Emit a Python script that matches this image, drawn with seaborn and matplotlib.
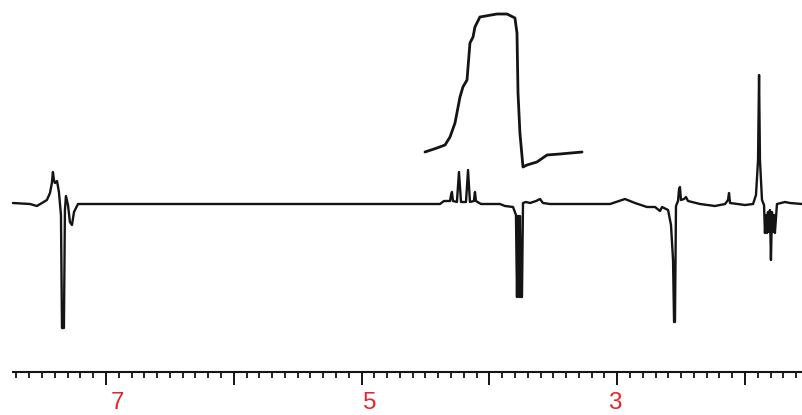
import numpy as np
import pandas as pd
import matplotlib
matplotlib.use("Agg")
import matplotlib.pyplot as plt
import seaborn as sns
from matplotlib.ticker import FixedLocator, NullFormatter

# ---- data (chemical shift in ppm, intensity in arbitrary units) ----
spectrum_ppm = [7.728, 7.595, 7.540, 7.501, 7.462, 7.438, 7.423, 7.415, 7.407, 7.399,
                7.383, 7.368, 7.352, 7.344, 7.329, 7.321, 7.313, 7.297, 7.282, 7.266,
                7.250, 7.219, 6.264, 5.482, 4.387, 4.355, 4.308, 4.300, 4.293, 4.285,
                4.254, 4.238, 4.222, 4.183, 4.167, 4.152, 4.121, 4.113, 4.105, 4.066,
                3.917, 3.878, 3.815, 3.792, 3.784, 3.776, 3.768, 3.761, 3.753, 3.745,
                3.737, 3.714, 3.682, 3.635, 3.604, 3.581, 3.526, 3.056, 2.939, 2.861,
                2.767, 2.704, 2.665, 2.649, 2.602, 2.579, 2.563, 2.555, 2.548, 2.540,
                2.524, 2.516, 2.509, 2.501, 2.477, 2.462, 2.446, 2.352, 2.235, 2.156,
                2.133, 2.125, 2.117, 2.000, 1.937, 1.914, 1.898, 1.890, 1.883, 1.867,
                1.851, 1.844, 1.836, 1.828, 1.820, 1.812, 1.805, 1.797, 1.789, 1.781,
                1.773, 1.766, 1.750, 1.687, 1.648, 1.554]
spectrum_int = [1, 0, -2, 1, 4, 11, 21, 32, 24, 21,
                23, 12, -11, -124, -124, -6, 8, -1, -18, -21,
                -8, 0, 0, 0, 0, 3, 3, 9, 12, 3,
                2, 32, 2, 2, 34, 2, 3, 12, 3, 0,
                0, -2, -3, -11, -93, -12, -93, -12, -93, -93,
                1, 2, 1, 3, 5, 1, 0, 0, 5, 1,
                -3, -3, -7, -3, -6, -21, -56, -118, -118, -2,
                3, 15, 17, 4, 5, 7, 3, 0, -2, 0,
                4, 11, 1, -1, 0, 9, 44, 129, 44, 4,
                -1, -29, -11, -29, -8, -28, -6, -56, -8, -28,
                -11, -29, 0, 2, 1, 0]

integral_ppm = [4.504, 4.410, 4.347, 4.308, 4.269, 4.230, 4.207, 4.175, 4.152, 4.128,
                4.113, 4.074, 3.941, 3.862, 3.800, 3.784, 3.776, 3.761, 3.737, 3.706,
                3.628, 3.549, 3.448, 3.275]
integral_int = [52, 56, 59, 67, 81, 107, 117, 124, 161, 167,
                177, 187, 190, 190, 186, 171, 111, 71, 37, 39,
                42, 49, 50, 52]

tick_labels = ["7", "5", "3"]
tick_label_ppm = [6.906, 4.934, 3.017]

spec_df = pd.DataFrame({"ppm": spectrum_ppm, "intensity": spectrum_int})
int_df = pd.DataFrame({"ppm": integral_ppm, "intensity": integral_int})

sns.set_style("white")
plt.rcParams["font.family"] = ["Liberation Sans", "DejaVu Sans"]

fig = plt.figure(figsize=(8.02, 4.15), dpi=100)
ax = fig.add_axes([0, 0, 1, 1])

ink = "#141414"
sns.lineplot(data=spec_df, x="ppm", y="intensity", sort=False, estimator=None,
             color=ink, linewidth=1.7, ax=ax)
sns.lineplot(data=int_df, x="ppm", y="intensity", sort=False, estimator=None,
             color=ink, linewidth=2.0, ax=ax)

ax.set_xlim(7.829, 1.554)
ax.set_ylim(-211, 204)
ax.set_xlabel("")
ax.set_ylabel("")
ax.set_facecolor("white")

for s in ("top", "left", "right"):
    ax.spines[s].set_visible(False)
ax.spines["bottom"].set_position(("data", -168))
ax.spines["bottom"].set_bounds(7.728, 1.554)
ax.spines["bottom"].set_color(ink)
ax.spines["bottom"].set_linewidth(1.5)

major = [7, 6, 5, 4, 3, 2]
minor = [round(v, 1) for v in np.arange(1.6, 7.75, 0.1)]
ax.xaxis.set_major_locator(FixedLocator(major))
ax.xaxis.set_minor_locator(FixedLocator(minor))
ax.xaxis.set_major_formatter(NullFormatter())
ax.tick_params(axis="x", which="major", direction="out", length=9.5, width=1.4,
               color=ink, bottom=True)
ax.tick_params(axis="x", which="minor", direction="out", length=4.5, width=1.3,
               color=ink, bottom=True)
ax.set_yticks([])

for lab, pos in zip(tick_labels, tick_label_ppm):
    ax.text(pos, -199, lab, color="#e3262b", fontsize=17.5, ha="center", va="center")

fig.savefig("out.png", dpi=100, facecolor="white")
